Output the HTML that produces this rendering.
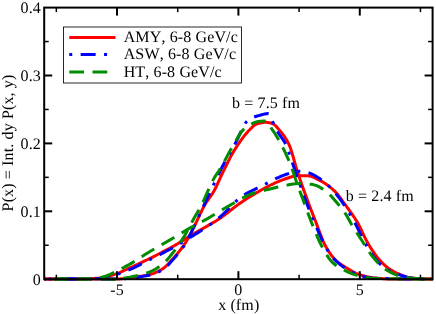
<!DOCTYPE html>
<html><head><meta charset="utf-8"><style>
html,body{margin:0;padding:0;background:#fff;}
svg{display:block;will-change:transform;}
text{font-family:"Liberation Serif",serif;font-size:16px;fill:#000;text-rendering:geometricPrecision;font-kerning:none;letter-spacing:0.13px;font-variant-ligatures:none;}
</style></head><body>
<svg width="436" height="314" viewBox="0 0 436 314">
<rect width="436" height="314" fill="#fff"/>
<g fill="none" stroke-width="3" stroke-linejoin="round">
<path d="M44.2,279.05 L45.7,279.05 L47.2,279.05 L48.7,279.05 L50.2,279.05 L51.7,279.05 L53.2,279.05 L54.7,279.05 L56.2,279.05 L57.7,279.05 L59.2,279.05 L60.7,279.05 L62.2,279.05 L63.7,279.05 L65.2,279.05 L66.7,279.05 L68.2,279.05 L69.7,279.05 L71.2,279.05 L72.7,279.05 L74.2,279.05 L75.7,279.05 L77.2,279.04 L78.7,279.01 L80.2,278.97 L81.7,278.93 L83.2,278.88 L84.7,278.82 L86.2,278.76 L87.7,278.70 L89.2,278.63 L90.7,278.57 L92.2,278.51 L93.7,278.43 L95.2,278.35 L96.7,278.26 L98.2,278.15 L99.7,278.03 L101.2,277.87 L102.7,277.65 L104.2,277.37 L105.7,277.05 L107.2,276.68 L108.7,276.27 L110.2,275.83 L111.7,275.36 L113.2,274.88 L114.7,274.38 L116.2,273.87 L117.7,273.36 L119.2,272.78 L120.7,272.12 L122.2,271.42 L123.7,270.70 L125.2,270.01 L126.7,269.33 L128.2,268.65 L129.7,267.97 L131.2,267.28 L132.7,266.59 L134.2,265.90 L135.7,265.20 L137.2,264.51 L138.7,263.81 L140.2,263.10 L141.7,262.39 L143.2,261.68 L144.7,260.97 L146.2,260.25 L147.7,259.52 L149.2,258.79 L150.7,258.06 L152.2,257.31 L153.7,256.56 L155.2,255.81 L156.7,255.04 L158.2,254.27 L159.7,253.50 L161.2,252.72 L162.7,251.93 L164.2,251.15 L165.7,250.36 L167.2,249.57 L168.7,248.78 L170.2,247.97 L171.7,247.15 L173.2,246.32 L174.7,245.47 L176.2,244.60 L177.7,243.71 L179.2,242.80 L180.7,241.87 L182.2,240.93 L183.7,239.98 L185.2,239.03 L186.7,238.08 L188.2,237.14 L189.7,236.20 L191.2,235.28 L192.7,234.38 L194.2,233.50 L195.7,232.62 L197.2,231.75 L198.7,230.89 L200.2,230.04 L201.7,229.18 L203.2,228.33 L204.7,227.48 L206.2,226.62 L207.7,225.75 L209.2,224.88 L210.7,224.02 L212.2,223.17 L213.7,222.30 L215.2,221.42 L216.7,220.51 L218.2,219.54 L219.7,218.53 L221.2,217.48 L222.7,216.40 L224.2,215.29 L225.7,214.15 L227.2,212.99 L228.7,211.82 L230.2,210.65 L231.7,209.47 L233.2,208.30 L234.7,207.14 L236.2,206.00 L237.7,204.88 L239.2,203.78 L240.7,202.72 L242.2,201.70 L243.7,200.71 L245.2,199.73 L246.7,198.77 L248.2,197.82 L249.7,196.88 L251.2,195.95 L252.7,195.04 L254.2,194.14 L255.7,193.25 L257.2,192.37 L258.7,191.50 L260.2,190.65 L261.7,189.81 L263.2,188.98 L264.7,188.16 L266.2,187.36 L267.7,186.56 L269.2,185.79 L270.7,185.03 L272.2,184.30 L273.7,183.59 L275.2,182.91 L276.7,182.25 L278.2,181.59 L279.7,180.96 L281.2,180.36 L282.7,179.79 L284.2,179.26 L285.7,178.77 L287.2,178.27 L288.7,177.75 L290.2,177.24 L291.7,176.77 L293.2,176.37 L294.7,176.06 L296.2,175.86 L297.7,175.80 L299.2,175.80 L300.7,175.80 L302.2,175.80 L303.7,175.80 L305.2,175.80 L306.7,175.80 L308.2,175.82 L309.7,176.03 L311.2,176.41 L312.7,176.94 L314.2,177.58 L315.7,178.30 L317.2,179.07 L318.7,179.84 L320.2,180.60 L321.7,181.39 L323.2,182.25 L324.7,183.19 L326.2,184.20 L327.7,185.28 L329.2,186.43 L330.7,187.65 L332.2,188.93 L333.7,190.28 L335.2,191.69 L336.7,193.29 L338.2,195.11 L339.7,197.08 L341.2,199.16 L342.7,201.28 L344.2,203.40 L345.7,205.45 L347.2,207.48 L348.7,209.50 L350.2,211.54 L351.7,213.63 L353.2,215.78 L354.7,218.02 L356.2,220.36 L357.7,222.84 L359.2,225.60 L360.7,228.63 L362.2,231.82 L363.7,235.03 L365.2,238.16 L366.7,241.07 L368.2,243.69 L369.7,246.20 L371.2,248.62 L372.7,250.95 L374.2,253.15 L375.7,255.22 L377.2,257.14 L378.7,258.92 L380.2,260.63 L381.7,262.26 L383.2,263.79 L384.7,265.21 L386.2,266.50 L387.7,267.64 L389.2,268.69 L390.7,269.68 L392.2,270.60 L393.7,271.46 L395.2,272.27 L396.7,273.02 L398.2,273.72 L399.7,274.38 L401.2,275.00 L402.7,275.61 L404.2,276.18 L405.7,276.70 L407.2,277.13 L408.7,277.45 L410.2,277.68 L411.7,277.90 L413.2,278.10 L414.7,278.29 L416.2,278.45 L417.7,278.60 L419.2,278.73 L420.7,278.84 L422.2,278.92 L423.7,278.97 L425.2,279.00 L426.7,279.02 L428.2,279.03 L429.7,279.04 L431.2,279.05 L432.6,279.05" stroke="#ff0000"/>
<path d="M44.2,279.05 L45.7,279.05 L47.2,279.05 L48.7,279.05 L50.2,279.05 L51.7,279.05 L53.2,279.05 L54.7,279.05 L56.2,279.05 L57.7,279.05 L59.2,279.05 L60.7,279.05 L62.2,279.05 L63.7,279.05 L65.2,279.05 L66.7,279.05 L68.2,279.05 L69.7,279.05 L71.2,279.05 L72.7,279.05 L74.2,279.05 L75.7,279.05 L77.2,279.05 L78.7,279.05 L80.2,279.05 L81.7,279.05 L83.2,279.05 L84.7,279.05 L86.2,279.05 L87.7,279.05 L89.2,279.05 L90.7,279.05 L92.2,279.05 L93.7,279.05 L95.2,279.05 L96.7,279.05 L98.2,279.05 L99.7,279.05 L101.2,279.05 L102.7,279.05 L104.2,279.05 L105.7,279.05 L107.2,279.05 L108.7,279.05 L110.2,279.05 L111.7,279.05 L113.2,279.05 L114.7,279.03 L116.2,279.00 L117.7,278.97 L119.2,278.92 L120.7,278.87 L122.2,278.77 L123.7,278.63 L125.2,278.46 L126.7,278.25 L128.2,278.04 L129.7,277.81 L131.2,277.59 L132.7,277.37 L134.2,277.17 L135.7,276.97 L137.2,276.77 L138.7,276.56 L140.2,276.35 L141.7,276.12 L143.2,275.88 L144.7,275.62 L146.2,275.34 L147.7,275.03 L149.2,274.69 L150.7,274.32 L152.2,273.87 L153.7,273.34 L155.2,272.74 L156.7,272.07 L158.2,271.34 L159.7,270.54 L161.2,269.69 L162.7,268.77 L164.2,267.70 L165.7,266.44 L167.2,265.01 L168.7,263.45 L170.2,261.81 L171.7,260.10 L173.2,258.37 L174.7,256.64 L176.2,254.93 L177.7,253.18 L179.2,251.37 L180.7,249.49 L182.2,247.51 L183.7,245.42 L185.2,243.19 L186.7,240.76 L188.2,238.12 L189.7,235.31 L191.2,232.40 L192.7,229.44 L194.2,226.47 L195.7,223.51 L197.2,220.42 L198.7,217.22 L200.2,213.99 L201.7,210.83 L203.2,207.81 L204.7,205.02 L206.2,202.53 L207.7,200.30 L209.2,198.20 L210.7,196.11 L212.2,193.93 L213.7,191.52 L215.2,188.77 L216.7,185.72 L218.2,182.46 L219.7,179.11 L221.2,175.79 L222.7,172.61 L224.2,169.57 L225.7,166.52 L227.2,163.48 L228.7,160.49 L230.2,157.58 L231.7,154.79 L233.2,152.14 L234.7,149.68 L236.2,147.33 L237.7,145.04 L239.2,142.81 L240.7,140.66 L242.2,138.59 L243.7,136.61 L245.2,134.74 L246.7,132.97 L248.2,131.33 L249.7,129.78 L251.2,128.21 L252.7,126.71 L254.2,125.38 L255.7,124.35 L257.2,123.74 L258.7,123.34 L260.2,122.99 L261.7,122.70 L263.2,122.48 L264.7,122.34 L266.2,122.30 L267.7,122.41 L269.2,122.67 L270.7,123.05 L272.2,123.52 L273.7,124.13 L275.2,125.32 L276.7,126.92 L278.2,128.66 L279.7,130.37 L281.2,132.17 L282.7,134.09 L284.2,136.18 L285.7,138.48 L287.2,141.04 L288.7,143.89 L290.2,147.37 L291.7,151.88 L293.2,157.04 L294.7,162.48 L296.2,167.79 L297.7,172.60 L299.2,177.06 L300.7,181.42 L302.2,185.70 L303.7,189.90 L305.2,194.04 L306.7,198.13 L308.2,202.19 L309.7,206.21 L311.2,210.16 L312.7,214.05 L314.2,217.90 L315.7,221.73 L317.2,225.64 L318.7,229.69 L320.2,233.75 L321.7,237.66 L323.2,241.27 L324.7,244.43 L326.2,247.17 L327.7,249.74 L329.2,252.13 L330.7,254.34 L332.2,256.35 L333.7,258.14 L335.2,259.69 L336.7,261.07 L338.2,262.33 L339.7,263.49 L341.2,264.56 L342.7,265.56 L344.2,266.51 L345.7,267.43 L347.2,268.32 L348.7,269.21 L350.2,270.10 L351.7,270.97 L353.2,271.81 L354.7,272.60 L356.2,273.33 L357.7,273.98 L359.2,274.54 L360.7,275.01 L362.2,275.45 L363.7,275.86 L365.2,276.25 L366.7,276.61 L368.2,276.94 L369.7,277.24 L371.2,277.50 L372.7,277.73 L374.2,277.92 L375.7,278.07 L377.2,278.21 L378.7,278.35 L380.2,278.48 L381.7,278.60 L383.2,278.71 L384.7,278.81 L386.2,278.89 L387.7,278.96 L389.2,279.01 L390.7,279.04 L392.2,279.05 L393.7,279.05 L395.2,279.05 L396.7,279.05 L398.2,279.05 L399.7,279.05 L401.2,279.05 L402.7,279.05 L404.2,279.05 L405.7,279.05 L407.2,279.05 L408.7,279.05 L410.2,279.05 L411.7,279.05 L413.2,279.05 L414.7,279.05 L416.2,279.05 L417.7,279.05 L419.2,279.05 L420.7,279.05 L422.2,279.05 L423.7,279.05 L425.2,279.05 L426.7,279.05 L428.2,279.05 L429.7,279.05 L431.2,279.05 L432.6,279.05" stroke="#ff0000"/>
<path d="M44.2,279.05 L45.7,279.05 L47.2,279.05 L48.7,279.05 L50.2,279.05 L51.7,279.05 L53.2,279.05 L54.7,279.05 L56.2,279.05 L57.7,279.05 L59.2,279.05 L60.7,279.05 L62.2,279.05 L63.7,279.05 L65.2,279.05 L66.7,279.05 L68.2,279.05 L69.7,279.05 L71.2,279.05 L72.7,279.05 L74.2,279.05 L75.7,279.05 L77.2,279.05 L78.7,279.05 L80.2,279.05 L81.7,279.04 L83.2,279.04 L84.7,279.03 L86.2,279.03 L87.7,279.02 L89.2,279.01 L90.7,278.99 L92.2,278.96 L93.7,278.92 L95.2,278.86 L96.7,278.79 L98.2,278.71 L99.7,278.62 L101.2,278.50 L102.7,278.33 L104.2,278.09 L105.7,277.80 L107.2,277.47 L108.7,277.09 L110.2,276.67 L111.7,276.22 L113.2,275.74 L114.7,275.24 L116.2,274.71 L117.7,274.17 L119.2,273.62 L120.7,273.07 L122.2,272.52 L123.7,271.97 L125.2,271.43 L126.7,270.87 L128.2,270.27 L129.7,269.64 L131.2,268.98 L132.7,268.29 L134.2,267.58 L135.7,266.85 L137.2,266.10 L138.7,265.33 L140.2,264.56 L141.7,263.78 L143.2,263.00 L144.7,262.22 L146.2,261.44 L147.7,260.66 L149.2,259.90 L150.7,259.15 L152.2,258.40 L153.7,257.65 L155.2,256.90 L156.7,256.14 L158.2,255.38 L159.7,254.62 L161.2,253.86 L162.7,253.09 L164.2,252.31 L165.7,251.53 L167.2,250.74 L168.7,249.94 L170.2,249.14 L171.7,248.32 L173.2,247.50 L174.7,246.67 L176.2,245.82 L177.7,244.96 L179.2,244.09 L180.7,243.21 L182.2,242.31 L183.7,241.41 L185.2,240.50 L186.7,239.58 L188.2,238.66 L189.7,237.73 L191.2,236.80 L192.7,235.88 L194.2,234.95 L195.7,234.04 L197.2,233.12 L198.7,232.20 L200.2,231.27 L201.7,230.33 L203.2,229.38 L204.7,228.41 L206.2,227.42 L207.7,226.40 L209.2,225.36 L210.7,224.29 L212.2,223.18 L213.7,222.05 L215.2,220.89 L216.7,219.70 L218.2,218.49 L219.7,217.25 L221.2,215.97 L222.7,214.61 L224.2,213.18 L225.7,211.70 L227.2,210.19 L228.7,208.65 L230.2,207.10 L231.7,205.57 L233.2,204.05 L234.7,202.57 L236.2,201.14 L237.7,199.77 L239.2,198.48 L240.7,197.29 L242.2,196.20 L243.7,195.22 L245.2,194.29 L246.7,193.41 L248.2,192.57 L249.7,191.77 L251.2,191.00 L252.7,190.26 L254.2,189.53 L255.7,188.82 L257.2,188.11 L258.7,187.41 L260.2,186.69 L261.7,185.97 L263.2,185.22 L264.7,184.46 L266.2,183.66 L267.7,182.84 L269.2,182.00 L270.7,181.18 L272.2,180.38 L273.7,179.62 L275.2,178.91 L276.7,178.23 L278.2,177.55 L279.7,176.89 L281.2,176.24 L282.7,175.63 L284.2,175.05 L285.7,174.51 L287.2,174.02 L288.7,173.58 L290.2,173.18 L291.7,172.77 L293.2,172.36 L294.7,171.99 L296.2,171.68 L297.7,171.45 L299.2,171.32 L300.7,171.32 L302.2,171.44 L303.7,171.67 L305.2,171.97 L306.7,172.31 L308.2,172.68 L309.7,173.15 L311.2,173.75 L312.7,174.45 L314.2,175.23 L315.7,176.08 L317.2,176.98 L318.7,177.92 L320.2,178.88 L321.7,179.92 L323.2,181.06 L324.7,182.30 L326.2,183.63 L327.7,185.04 L329.2,186.51 L330.7,188.04 L332.2,189.61 L333.7,191.22 L335.2,192.91 L336.7,194.72 L338.2,196.64 L339.7,198.63 L341.2,200.71 L342.7,202.84 L344.2,205.03 L345.7,207.30 L347.2,209.67 L348.7,212.11 L350.2,214.63 L351.7,217.22 L353.2,219.86 L354.7,222.55 L356.2,225.31 L357.7,228.27 L359.2,231.39 L360.7,234.56 L362.2,237.69 L363.7,240.70 L365.2,243.48 L366.7,246.04 L368.2,248.54 L369.7,250.95 L371.2,253.25 L372.7,255.41 L374.2,257.41 L375.7,259.23 L377.2,260.94 L378.7,262.58 L380.2,264.13 L381.7,265.56 L383.2,266.85 L384.7,267.97 L386.2,268.93 L387.7,269.80 L389.2,270.61 L390.7,271.36 L392.2,272.06 L393.7,272.71 L395.2,273.31 L396.7,273.88 L398.2,274.41 L399.7,274.90 L401.2,275.38 L402.7,275.84 L404.2,276.29 L405.7,276.71 L407.2,277.09 L408.7,277.43 L410.2,277.73 L411.7,277.96 L413.2,278.15 L414.7,278.34 L416.2,278.52 L417.7,278.68 L419.2,278.82 L420.7,278.94 L422.2,279.03 L423.7,279.08 L425.2,279.10 L426.7,279.10 L428.2,279.10 L429.7,279.09 L431.2,279.07 L432.6,279.05" stroke="#0000ff" stroke-dasharray="3 8.4 15 8.4" stroke-dashoffset="30.4"/>
<path d="M44.2,279.05 L45.7,279.05 L47.2,279.05 L48.7,279.05 L50.2,279.05 L51.7,279.05 L53.2,279.05 L54.7,279.05 L56.2,279.05 L57.7,279.05 L59.2,279.05 L60.7,279.05 L62.2,279.05 L63.7,279.05 L65.2,279.05 L66.7,279.05 L68.2,279.05 L69.7,279.05 L71.2,279.05 L72.7,279.05 L74.2,279.05 L75.7,279.05 L77.2,279.05 L78.7,279.05 L80.2,279.05 L81.7,279.05 L83.2,279.05 L84.7,279.05 L86.2,279.05 L87.7,279.05 L89.2,279.05 L90.7,279.05 L92.2,279.05 L93.7,279.05 L95.2,279.05 L96.7,279.05 L98.2,279.05 L99.7,279.05 L101.2,279.05 L102.7,279.05 L104.2,279.05 L105.7,279.05 L107.2,279.05 L108.7,279.05 L110.2,279.05 L111.7,279.05 L113.2,279.05 L114.7,279.04 L116.2,279.03 L117.7,279.02 L119.2,279.01 L120.7,278.99 L122.2,278.92 L123.7,278.80 L125.2,278.65 L126.7,278.48 L128.2,278.29 L129.7,278.09 L131.2,277.90 L132.7,277.72 L134.2,277.54 L135.7,277.35 L137.2,277.17 L138.7,276.97 L140.2,276.77 L141.7,276.55 L143.2,276.32 L144.7,276.07 L146.2,275.80 L147.7,275.50 L149.2,275.18 L150.7,274.83 L152.2,274.41 L153.7,273.93 L155.2,273.38 L156.7,272.76 L158.2,272.08 L159.7,271.34 L161.2,270.54 L162.7,269.68 L164.2,268.65 L165.7,267.41 L167.2,266.00 L168.7,264.45 L170.2,262.80 L171.7,261.09 L173.2,259.36 L174.7,257.64 L176.2,255.94 L177.7,254.21 L179.2,252.43 L180.7,250.56 L182.2,248.58 L183.7,246.46 L185.2,244.18 L186.7,241.63 L188.2,238.80 L189.7,235.76 L191.2,232.60 L192.7,229.38 L194.2,226.17 L195.7,223.04 L197.2,219.86 L198.7,216.63 L200.2,213.37 L201.7,210.10 L203.2,206.85 L204.7,203.64 L206.2,200.45 L207.7,197.26 L209.2,194.05 L210.7,190.84 L212.2,187.64 L213.7,184.45 L215.2,181.28 L216.7,178.14 L218.2,175.03 L219.7,171.96 L221.2,168.94 L222.7,165.97 L224.2,163.07 L225.7,160.25 L227.2,157.53 L228.7,154.88 L230.2,152.27 L231.7,149.67 L233.2,147.06 L234.7,144.40 L236.2,141.66 L237.7,138.61 L239.2,135.33 L240.7,132.00 L242.2,128.78 L243.7,125.85 L245.2,123.37 L246.7,121.53 L248.2,120.27 L249.7,119.24 L251.2,118.37 L252.7,117.65 L254.2,117.02 L255.7,116.48 L257.2,116.01 L258.7,115.59 L260.2,115.20 L261.7,114.81 L263.2,114.39 L264.7,113.98 L266.2,113.69 L267.7,113.61 L269.2,114.06 L270.7,116.13 L272.2,120.43 L273.7,124.01 L275.2,127.12 L276.7,130.04 L278.2,132.70 L279.7,134.99 L281.2,137.08 L282.7,139.16 L284.2,141.43 L285.7,144.08 L287.2,147.46 L288.7,151.99 L290.2,156.58 L291.7,160.90 L293.2,165.20 L294.7,169.47 L296.2,173.73 L297.7,177.99 L299.2,182.27 L300.7,186.57 L302.2,190.85 L303.7,195.07 L305.2,199.20 L306.7,203.21 L308.2,207.10 L309.7,210.88 L311.2,214.58 L312.7,218.21 L314.2,221.78 L315.7,225.30 L317.2,228.83 L318.7,232.42 L320.2,235.98 L321.7,239.41 L323.2,242.60 L324.7,245.47 L326.2,248.03 L327.7,250.46 L329.2,252.75 L330.7,254.89 L332.2,256.85 L333.7,258.63 L335.2,260.20 L336.7,261.63 L338.2,262.95 L339.7,264.19 L341.2,265.35 L342.7,266.43 L344.2,267.45 L345.7,268.41 L347.2,269.32 L348.7,270.20 L350.2,271.07 L351.7,271.91 L353.2,272.71 L354.7,273.46 L356.2,274.15 L357.7,274.75 L359.2,275.27 L360.7,275.69 L362.2,276.09 L363.7,276.48 L365.2,276.85 L366.7,277.19 L368.2,277.49 L369.7,277.76 L371.2,277.99 L372.7,278.16 L374.2,278.27 L375.7,278.32 L377.2,278.36 L378.7,278.40 L380.2,278.44 L381.7,278.48 L383.2,278.52 L384.7,278.55 L386.2,278.59 L387.7,278.62 L389.2,278.65 L390.7,278.68 L392.2,278.71 L393.7,278.74 L395.2,278.76 L396.7,278.79 L398.2,278.81 L399.7,278.83 L401.2,278.85 L402.7,278.87 L404.2,278.89 L405.7,278.91 L407.2,278.92 L408.7,278.94 L410.2,278.95 L411.7,278.97 L413.2,278.98 L414.7,278.99 L416.2,279.00 L417.7,279.01 L419.2,279.02 L420.7,279.02 L422.2,279.03 L423.7,279.04 L425.2,279.04 L426.7,279.04 L428.2,279.05 L429.7,279.05 L431.2,279.05 L432.6,279.05" stroke="#0000ff" stroke-dasharray="3 8.4 15 8.4" stroke-dashoffset="24.4"/>
<path d="M44.2,279.05 L45.7,279.05 L47.2,279.05 L48.7,279.05 L50.2,279.05 L51.7,279.05 L53.2,279.05 L54.7,279.05 L56.2,279.05 L57.7,279.05 L59.2,279.05 L60.7,279.05 L62.2,279.05 L63.7,279.05 L65.2,279.05 L66.7,279.05 L68.2,279.05 L69.7,279.05 L71.2,279.05 L72.7,279.05 L74.2,279.05 L75.7,279.04 L77.2,279.04 L78.7,279.03 L80.2,279.03 L81.7,279.02 L83.2,279.01 L84.7,279.00 L86.2,278.98 L87.7,278.92 L89.2,278.83 L90.7,278.71 L92.2,278.56 L93.7,278.39 L95.2,278.20 L96.7,277.99 L98.2,277.77 L99.7,277.55 L101.2,277.29 L102.7,276.95 L104.2,276.54 L105.7,276.07 L107.2,275.53 L108.7,274.94 L110.2,274.30 L111.7,273.62 L113.2,272.90 L114.7,272.16 L116.2,271.40 L117.7,270.61 L119.2,269.82 L120.7,269.03 L122.2,268.24 L123.7,267.46 L125.2,266.70 L126.7,265.92 L128.2,265.10 L129.7,264.25 L131.2,263.37 L132.7,262.46 L134.2,261.53 L135.7,260.59 L137.2,259.63 L138.7,258.66 L140.2,257.69 L141.7,256.72 L143.2,255.75 L144.7,254.79 L146.2,253.83 L147.7,252.90 L149.2,251.98 L150.7,251.08 L152.2,250.20 L153.7,249.32 L155.2,248.44 L156.7,247.57 L158.2,246.71 L159.7,245.84 L161.2,244.98 L162.7,244.12 L164.2,243.26 L165.7,242.40 L167.2,241.54 L168.7,240.67 L170.2,239.81 L171.7,238.93 L173.2,238.06 L174.7,237.18 L176.2,236.29 L177.7,235.38 L179.2,234.47 L180.7,233.55 L182.2,232.63 L183.7,231.72 L185.2,230.81 L186.7,229.91 L188.2,229.03 L189.7,228.17 L191.2,227.33 L192.7,226.51 L194.2,225.71 L195.7,224.92 L197.2,224.14 L198.7,223.36 L200.2,222.58 L201.7,221.79 L203.2,220.99 L204.7,220.17 L206.2,219.32 L207.7,218.47 L209.2,217.59 L210.7,216.71 L212.2,215.82 L213.7,214.91 L215.2,214.01 L216.7,213.10 L218.2,212.19 L219.7,211.28 L221.2,210.37 L222.7,209.47 L224.2,208.58 L225.7,207.70 L227.2,206.83 L228.7,205.98 L230.2,205.14 L231.7,204.30 L233.2,203.43 L234.7,202.56 L236.2,201.68 L237.7,200.81 L239.2,199.94 L240.7,199.08 L242.2,198.25 L243.7,197.43 L245.2,196.65 L246.7,195.91 L248.2,195.21 L249.7,194.56 L251.2,193.97 L252.7,193.43 L254.2,192.95 L255.7,192.49 L257.2,192.07 L258.7,191.67 L260.2,191.30 L261.7,190.93 L263.2,190.58 L264.7,190.24 L266.2,189.89 L267.7,189.55 L269.2,189.19 L270.7,188.83 L272.2,188.45 L273.7,188.07 L275.2,187.69 L276.7,187.31 L278.2,186.94 L279.7,186.58 L281.2,186.24 L282.7,185.93 L284.2,185.64 L285.7,185.38 L287.2,185.11 L288.7,184.84 L290.2,184.57 L291.7,184.31 L293.2,184.07 L294.7,183.87 L296.2,183.70 L297.7,183.58 L299.2,183.51 L300.7,183.50 L302.2,183.54 L303.7,183.61 L305.2,183.70 L306.7,183.83 L308.2,183.97 L309.7,184.14 L311.2,184.33 L312.7,184.53 L314.2,184.85 L315.7,185.32 L317.2,185.93 L318.7,186.66 L320.2,187.48 L321.7,188.38 L323.2,189.33 L324.7,190.30 L326.2,191.36 L327.7,192.62 L329.2,194.05 L330.7,195.62 L332.2,197.30 L333.7,199.03 L335.2,200.80 L336.7,202.57 L338.2,204.31 L339.7,206.07 L341.2,207.90 L342.7,209.81 L344.2,211.85 L345.7,214.06 L347.2,216.56 L348.7,219.24 L350.2,221.98 L351.7,224.65 L353.2,227.14 L354.7,229.54 L356.2,231.89 L357.7,234.20 L359.2,236.49 L360.7,238.76 L362.2,241.04 L363.7,243.36 L365.2,245.74 L366.7,248.13 L368.2,250.48 L369.7,252.74 L371.2,254.84 L372.7,256.74 L374.2,258.54 L375.7,260.29 L377.2,261.98 L378.7,263.58 L380.2,265.09 L381.7,266.47 L383.2,267.72 L384.7,268.80 L386.2,269.76 L387.7,270.67 L389.2,271.53 L390.7,272.34 L392.2,273.10 L393.7,273.80 L395.2,274.44 L396.7,275.00 L398.2,275.50 L399.7,275.92 L401.2,276.29 L402.7,276.64 L404.2,276.97 L405.7,277.27 L407.2,277.56 L408.7,277.81 L410.2,278.03 L411.7,278.22 L413.2,278.37 L414.7,278.48 L416.2,278.56 L417.7,278.64 L419.2,278.71 L420.7,278.78 L422.2,278.84 L423.7,278.89 L425.2,278.94 L426.7,278.98 L428.2,279.01 L429.7,279.03 L431.2,279.05 L432.6,279.05" stroke="#008b00" stroke-dasharray="14.75 8.5" stroke-dashoffset="13.550000000000004"/>
<path d="M44.2,279.05 L45.7,279.05 L47.2,279.05 L48.7,279.05 L50.2,279.05 L51.7,279.05 L53.2,279.05 L54.7,279.05 L56.2,279.05 L57.7,279.05 L59.2,279.05 L60.7,279.05 L62.2,279.05 L63.7,279.05 L65.2,279.05 L66.7,279.05 L68.2,279.05 L69.7,279.05 L71.2,279.05 L72.7,279.05 L74.2,279.05 L75.7,279.05 L77.2,279.05 L78.7,279.05 L80.2,279.05 L81.7,279.05 L83.2,279.05 L84.7,279.05 L86.2,279.05 L87.7,279.05 L89.2,279.05 L90.7,279.05 L92.2,279.05 L93.7,279.05 L95.2,279.05 L96.7,279.05 L98.2,279.05 L99.7,279.05 L101.2,279.05 L102.7,279.05 L104.2,279.05 L105.7,279.05 L107.2,279.07 L108.7,279.10 L110.2,279.13 L111.7,279.16 L113.2,279.19 L114.7,279.20 L116.2,279.18 L117.7,279.09 L119.2,278.95 L120.7,278.76 L122.2,278.54 L123.7,278.28 L125.2,278.01 L126.7,277.72 L128.2,277.44 L129.7,277.15 L131.2,276.88 L132.7,276.59 L134.2,276.29 L135.7,275.97 L137.2,275.63 L138.7,275.28 L140.2,274.90 L141.7,274.50 L143.2,274.07 L144.7,273.62 L146.2,273.14 L147.7,272.64 L149.2,272.10 L150.7,271.52 L152.2,270.86 L153.7,270.11 L155.2,269.27 L156.7,268.36 L158.2,267.38 L159.7,266.32 L161.2,265.21 L162.7,264.04 L164.2,262.74 L165.7,261.27 L167.2,259.67 L168.7,257.95 L170.2,256.14 L171.7,254.26 L173.2,252.34 L174.7,250.39 L176.2,248.41 L177.7,246.32 L179.2,244.14 L180.7,241.88 L182.2,239.54 L183.7,237.13 L185.2,234.67 L186.7,232.06 L188.2,229.31 L189.7,226.46 L191.2,223.58 L192.7,220.72 L194.2,217.93 L195.7,215.29 L197.2,212.80 L198.7,210.30 L200.2,207.63 L201.7,204.69 L203.2,201.55 L204.7,198.25 L206.2,194.87 L207.7,191.47 L209.2,188.11 L210.7,184.86 L212.2,181.77 L213.7,178.91 L215.2,176.35 L216.7,174.12 L218.2,171.98 L219.7,169.68 L221.2,167.15 L222.7,164.48 L224.2,161.72 L225.7,158.91 L227.2,156.09 L228.7,153.31 L230.2,150.60 L231.7,148.00 L233.2,145.46 L234.7,142.84 L236.2,140.19 L237.7,137.60 L239.2,135.14 L240.7,132.88 L242.2,130.90 L243.7,129.28 L245.2,127.98 L246.7,126.83 L248.2,125.82 L249.7,124.92 L251.2,124.12 L252.7,123.41 L254.2,122.72 L255.7,122.10 L257.2,121.64 L258.7,121.42 L260.2,121.26 L261.7,121.13 L263.2,121.04 L264.7,121.00 L266.2,121.39 L267.7,122.79 L269.2,124.85 L270.7,127.23 L272.2,129.57 L273.7,131.73 L275.2,134.03 L276.7,136.46 L278.2,139.01 L279.7,141.69 L281.2,144.48 L282.7,147.37 L284.2,150.37 L285.7,153.46 L287.2,156.76 L288.7,160.26 L290.2,163.96 L291.7,167.85 L293.2,172.01 L294.7,176.62 L296.2,180.94 L297.7,185.16 L299.2,189.30 L300.7,193.39 L302.2,197.45 L303.7,201.49 L305.2,205.54 L306.7,209.64 L308.2,213.74 L309.7,217.80 L311.2,221.73 L312.7,225.49 L314.2,229.17 L315.7,232.81 L317.2,236.37 L318.7,239.79 L320.2,243.02 L321.7,246.02 L323.2,248.76 L324.7,251.42 L326.2,254.00 L327.7,256.42 L329.2,258.64 L330.7,260.59 L332.2,262.22 L333.7,263.55 L335.2,264.74 L336.7,265.83 L338.2,266.81 L339.7,267.72 L341.2,268.56 L342.7,269.35 L344.2,270.10 L345.7,270.84 L347.2,271.57 L348.7,272.27 L350.2,272.94 L351.7,273.57 L353.2,274.16 L354.7,274.69 L356.2,275.15 L357.7,275.55 L359.2,275.92 L360.7,276.28 L362.2,276.63 L363.7,276.97 L365.2,277.28 L366.7,277.57 L368.2,277.83 L369.7,278.06 L371.2,278.25 L372.7,278.39 L374.2,278.47 L375.7,278.51 L377.2,278.55 L378.7,278.58 L380.2,278.61 L381.7,278.63 L383.2,278.66 L384.7,278.69 L386.2,278.71 L387.7,278.73 L389.2,278.76 L390.7,278.78 L392.2,278.80 L393.7,278.82 L395.2,278.84 L396.7,278.86 L398.2,278.87 L399.7,278.89 L401.2,278.91 L402.7,278.92 L404.2,278.93 L405.7,278.95 L407.2,278.96 L408.7,278.97 L410.2,278.98 L411.7,278.99 L413.2,279.00 L414.7,279.01 L416.2,279.01 L417.7,279.02 L419.2,279.03 L420.7,279.03 L422.2,279.04 L423.7,279.04 L425.2,279.04 L426.7,279.05 L428.2,279.05 L429.7,279.05 L431.2,279.05 L432.6,279.05" stroke="#008b00" stroke-dasharray="14.75 8.5" stroke-dashoffset="13.550000000000004"/>
</g>
<g stroke="#000" fill="none">
<rect x="44.2" y="7.6" width="388.40000000000003" height="271.59999999999997" stroke-width="2"/>
<line x1="56.34" y1="279.2" x2="56.34" y2="274.7" stroke-width="1.5"/>
<line x1="56.34" y1="7.6" x2="56.34" y2="12.1" stroke-width="1.5"/>
<line x1="117.03" y1="279.2" x2="117.03" y2="271.2" stroke-width="2"/>
<line x1="117.03" y1="7.6" x2="117.03" y2="15.6" stroke-width="2"/>
<line x1="177.71" y1="279.2" x2="177.71" y2="274.7" stroke-width="1.5"/>
<line x1="177.71" y1="7.6" x2="177.71" y2="12.1" stroke-width="1.5"/>
<line x1="238.40" y1="279.2" x2="238.40" y2="271.2" stroke-width="2"/>
<line x1="238.40" y1="7.6" x2="238.40" y2="15.6" stroke-width="2"/>
<line x1="299.09" y1="279.2" x2="299.09" y2="274.7" stroke-width="1.5"/>
<line x1="299.09" y1="7.6" x2="299.09" y2="12.1" stroke-width="1.5"/>
<line x1="359.78" y1="279.2" x2="359.78" y2="271.2" stroke-width="2"/>
<line x1="359.78" y1="7.6" x2="359.78" y2="15.6" stroke-width="2"/>
<line x1="420.46" y1="279.2" x2="420.46" y2="274.7" stroke-width="1.5"/>
<line x1="420.46" y1="7.6" x2="420.46" y2="12.1" stroke-width="1.5"/>
<line x1="44.2" y1="245.25" x2="48.7" y2="245.25" stroke-width="1.5"/>
<line x1="432.6" y1="245.25" x2="428.1" y2="245.25" stroke-width="1.5"/>
<line x1="44.2" y1="211.30" x2="52.2" y2="211.30" stroke-width="2"/>
<line x1="432.6" y1="211.30" x2="424.6" y2="211.30" stroke-width="2"/>
<line x1="44.2" y1="177.35" x2="48.7" y2="177.35" stroke-width="1.5"/>
<line x1="432.6" y1="177.35" x2="428.1" y2="177.35" stroke-width="1.5"/>
<line x1="44.2" y1="143.40" x2="52.2" y2="143.40" stroke-width="2"/>
<line x1="432.6" y1="143.40" x2="424.6" y2="143.40" stroke-width="2"/>
<line x1="44.2" y1="109.45" x2="48.7" y2="109.45" stroke-width="1.5"/>
<line x1="432.6" y1="109.45" x2="428.1" y2="109.45" stroke-width="1.5"/>
<line x1="44.2" y1="75.50" x2="52.2" y2="75.50" stroke-width="2"/>
<line x1="432.6" y1="75.50" x2="424.6" y2="75.50" stroke-width="2"/>
<line x1="44.2" y1="41.55" x2="48.7" y2="41.55" stroke-width="1.5"/>
<line x1="432.6" y1="41.55" x2="428.1" y2="41.55" stroke-width="1.5"/>
</g>
<rect x="63.5" y="27" width="178" height="56" fill="#fff" stroke="#000" stroke-width="0.85"/>
<g fill="none" stroke-width="3">
<path d="M69.25,37.5 H115.5" stroke="#ff0000"/>
<path d="M69.25,54.5 H115.2" stroke="#0000ff" stroke-dasharray="3 8.4 15 8.4"/>
<path d="M69.25,72 H115.5" stroke="#008b00" stroke-dasharray="14.75 8.5"/>
</g>
<text x="123.7" y="41.5">AMY, 6-8 GeV/c</text>
<text x="123.7" y="59">ASW, 6-8 GeV/c</text>
<text x="123.7" y="76.5">HT, 6-8 GeV/c</text>
<text x="232" y="107.5">b = 7.5 fm</text>
<text x="345.75" y="201.25">b = 2.4 fm</text>
<g text-anchor="end">
<text x="41" y="12.5">0.4</text>
<text x="41" y="80.5">0.3</text>
<text x="41" y="148.5">0.2</text>
<text x="41" y="216.5">0.1</text>
<text x="41" y="284.5">0</text>
</g>
<g text-anchor="middle">
<text x="117.03" y="294.6">-5</text>
<text x="238.40" y="294.6">0</text>
<text x="359.78" y="294.6">5</text>
<text x="238.75" y="310">x (fm)</text>
<text transform="translate(13.4,143) rotate(-90)">P(x) = Int. dy P(x, y)</text>
</g>
</svg>
</body></html>
